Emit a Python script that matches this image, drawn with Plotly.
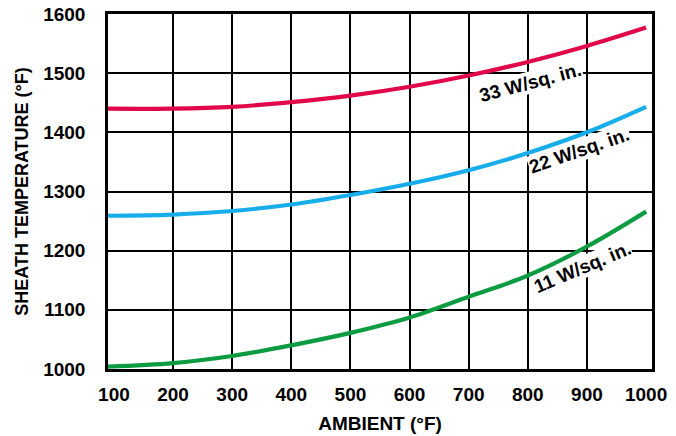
import plotly.graph_objects as go

# Data
ambient = [90, 200, 300, 400, 500, 600, 700, 800, 900, 1000]
sheath_33 = [1440, 1440, 1443, 1451, 1462, 1477, 1496, 1519, 1546, 1577]
sheath_22 = [1259, 1261, 1267, 1278, 1294, 1313, 1336, 1365, 1400, 1443]
sheath_11 = [1004, 1010, 1022, 1040, 1061, 1087, 1122, 1158, 1207, 1266]

series_names = ["33 W/sq. in.", "22 W/sq. in.", "11 W/sq. in."]
series_colors = ["#E0084B", "#17ADEA", "#0C9B40"]

x_ticks = [100, 200, 300, 400, 500, 600, 700, 800, 900, 1000]
y_ticks = [1000, 1100, 1200, 1300, 1400, 1500, 1600]
x_grid = [200, 300, 400, 500, 600, 700, 800, 900]
y_grid = [1100, 1200, 1300, 1400, 1500]

# label anchor (x, y, angle) per series
label_pos = [(804, 1485, -15), (887, 1369, -19), (892, 1171, -23)]

FONT = "Liberation Sans, Arial, sans-serif"

fig = go.Figure()
for name, ys, col in zip(series_names, [sheath_33, sheath_22, sheath_11], series_colors):
    fig.add_trace(go.Scatter(x=ambient, y=ys, mode="lines", name=name,
                             line=dict(color=col, width=4.2, shape="spline", smoothing=1.0),
                             hoverinfo="x+y+name"))

for name, (lx, ly, ang) in zip(series_names, label_pos):
    fig.add_annotation(x=lx, y=ly, text="<b>" + name + "</b>", showarrow=False,
                       textangle=ang, bgcolor="white", borderpad=0,
                       font=dict(family=FONT, size=19, color="black"))

fig.update_layout(
    width=676, height=436,
    margin=dict(l=108, r=24, t=14, b=67, autoexpand=False),
    paper_bgcolor="white", plot_bgcolor="white",
    showlegend=False,
    font=dict(family=FONT, color="black"),
    xaxis=dict(range=[90, 1010], tickvals=x_ticks, ticktext=[f"<b>{v}</b>" for v in x_ticks],
               showgrid=False, zeroline=False, automargin=False,
               showline=True, linecolor="black", linewidth=2.5, mirror=True,
               ticks="", ticklabelstandoff=6,
               tickfont=dict(family=FONT, size=19, color="black"),
               minor=dict(tickvals=x_grid, showgrid=True, gridcolor="black", gridwidth=2),
               title=dict(text="<b>AMBIENT (°F)</b>", font=dict(family=FONT, size=19, color="black"),
                          standoff=14)),
    yaxis=dict(range=[1000, 1600], tickvals=y_ticks, ticktext=[f"<b>{v}</b>" for v in y_ticks],
               showgrid=False, zeroline=False, automargin=False,
               showline=True, linecolor="black", linewidth=2.5, mirror=True,
               ticks="", ticklabelstandoff=16,
               tickfont=dict(family=FONT, size=19, color="black"),
               minor=dict(tickvals=y_grid, showgrid=True, gridcolor="black", gridwidth=2),
               title=dict(text="<b>SHEATH TEMPERATURE (°F)</b>", font=dict(family=FONT, size=18, color="black"),
                          standoff=10)),
)

fig.write_html("out.html", config={"displayModeBar": False},
               post_script="document.body.style.margin='0';")
